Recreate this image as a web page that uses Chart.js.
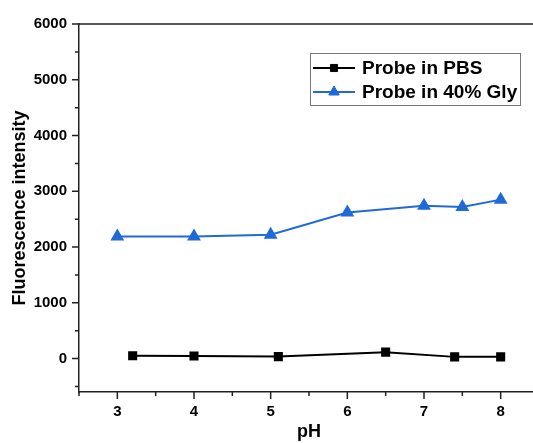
<!DOCTYPE html>
<html>
<head>
<meta charset="utf-8">
<script src="https://cdn.jsdelivr.net/npm/chart.js@4.4.0/dist/chart.umd.min.js"></script>
<style>
  html, body { margin: 0; padding: 0; background: #fff; overflow: hidden; }
  #wrap { width: 550px; height: 443px; }
</style>
</head>
<body>
<div id="wrap"><canvas id="chart" width="550" height="443"></canvas></div>
<script>
// datos
const phPBS = [3.2, 4.0, 5.1, 6.5, 7.4, 8.0];
const intensityPBS = [50, 45, 35, 115, 30, 30];
const phGly = [3, 4, 5, 6, 7, 7.5, 8];
const intensityGly = [2190, 2190, 2220, 2620, 2740, 2720, 2850];
const seriesNames = ['Probe in PBS', 'Probe in 40% Gly'];
const xTickValues = [2.5, 3, 3.5, 4, 4.5, 5, 5.5, 6, 6.5, 7, 7.5, 8, 8.5];
const yTickValues = [-500, 0, 500, 1000, 1500, 2000, 2500, 3000, 3500, 4000, 4500, 5000, 5500, 6000];

const FONT = '"Liberation Sans", Arial, sans-serif';
const axisColor = '#222';

// ticks hacia fuera: largos en valores con etiqueta, cortos en los intermedios
const tickPlugin = {
  id: 'outerTicks',
  afterDraw(chart) {
    const ctx = chart.ctx;
    const area = chart.chartArea;
    const xs = chart.scales.x;
    const ys = chart.scales.y;
    ctx.save();
    ctx.strokeStyle = axisColor;
    ctx.lineWidth = 1.5;
    ctx.beginPath();
    // linea superior del marco (el borde derecho queda fuera de la imagen)
    ctx.moveTo(area.left, area.top);
    ctx.lineTo(area.right + 20, area.top);
    xTickValues.forEach(v => {
      const px = xs.getPixelForValue(v);
      const len = Number.isInteger(v) ? 7 : 4;
      ctx.moveTo(px, area.bottom);
      ctx.lineTo(px, area.bottom + len);
    });
    yTickValues.forEach(v => {
      const py = ys.getPixelForValue(v);
      const len = v % 1000 === 0 ? 7 : 4;
      ctx.moveTo(area.left, py);
      ctx.lineTo(area.left - len, py);
    });
    ctx.stroke();
    ctx.restore();
  }
};

// leyenda dentro del area, con caja
const boxLegend = {
  id: 'boxLegend',
  afterDraw(chart) {
    const ctx = chart.ctx;
    const x0 = 310, y0 = 53, w = 210, h = 52;
    ctx.save();
    ctx.strokeStyle = '#777';
    ctx.lineWidth = 1;
    ctx.strokeRect(x0 + 0.5, y0 + 0.5, w, h);
    chart.data.datasets.forEach((ds, i) => {
      const cy = y0 + 15 + i * 24;
      ctx.strokeStyle = ds.borderColor;
      ctx.lineWidth = 2;
      ctx.beginPath();
      ctx.moveTo(x0 + 3, cy);
      ctx.lineTo(x0 + 45, cy);
      ctx.stroke();
      ctx.fillStyle = ds.pointBackgroundColor;
      ctx.strokeStyle = ds.pointBorderColor;
      ctx.lineWidth = 1;
      Chart.helpers.drawPoint(ctx, {pointStyle: ds.pointStyle, radius: ds.pointRadius, borderWidth: 1, rotation: 0}, x0 + 24, cy);
      ctx.fillStyle = '#000';
      ctx.font = 'bold 19px ' + FONT;
      ctx.textBaseline = 'middle';
      ctx.fillText(ds.label, x0 + 52, cy + 1);
    });
    ctx.restore();
  }
};

new Chart(document.getElementById('chart'), {
  type: 'line',
  data: {
    datasets: [
      {
        label: seriesNames[0],
        data: phPBS.map((x, i) => ({x: x, y: intensityPBS[i]})),
        borderColor: '#000',
        backgroundColor: '#000',
        pointBackgroundColor: '#000',
        pointBorderColor: '#000',
        pointStyle: 'rect',
        pointRadius: 5,
        borderWidth: 2,
        tension: 0
      },
      {
        label: seriesNames[1],
        data: phGly.map((x, i) => ({x: x, y: intensityGly[i]})),
        borderColor: '#1f6ad8',
        backgroundColor: '#1f6ad8',
        pointBackgroundColor: '#1f6ad8',
        pointBorderColor: '#1f6ad8',
        pointStyle: 'triangle',
        pointRadius: 6,
        borderWidth: 2,
        tension: 0
      }
    ]
  },
  options: {
    responsive: false,
    animation: false,
    devicePixelRatio: 1,
    layout: { padding: { top: 24, right: 8, left: 0, bottom: 0 } },
    plugins: { legend: { display: false }, tooltip: { enabled: false } },
    scales: {
      x: {
        type: 'linear',
        min: 2.5,
        max: 8.5,
        afterFit(scale) { scale.height = 51; },
        afterBuildTicks(scale) { scale.ticks = xTickValues.map(v => ({value: v})); },
        grid: { display: false, drawTicks: false },
        border: { display: true, color: axisColor, width: 1.5 },
        ticks: {
          padding: 11,
          color: '#000',
          font: { family: FONT, size: 15, weight: 'bold' },
          callback: v => Number.isInteger(v) ? String(v) : ''
        },
        title: {
          display: true,
          text: 'pH',
          color: '#000',
          padding: 0,
          font: { family: FONT, size: 18, weight: 'bold' }
        }
      },
      y: {
        type: 'linear',
        min: -600,
        max: 6000,
        afterFit(scale) { scale.width = 79; },
        afterBuildTicks(scale) { scale.ticks = yTickValues.map(v => ({value: v})); },
        grid: { display: false, drawTicks: false },
        border: { display: true, color: axisColor, width: 1.5 },
        ticks: {
          padding: 12,
          color: '#000',
          font: { family: FONT, size: 15, weight: 'bold' },
          callback: v => v % 1000 === 0 ? String(v) : ''
        },
        title: {
          display: true,
          text: 'Fluorescence intensity',
          color: '#000',
          padding: 9,
          font: { family: FONT, size: 18, weight: 'bold' }
        }
      }
    }
  },
  plugins: [tickPlugin, boxLegend]
});
</script>
</body>
</html>
